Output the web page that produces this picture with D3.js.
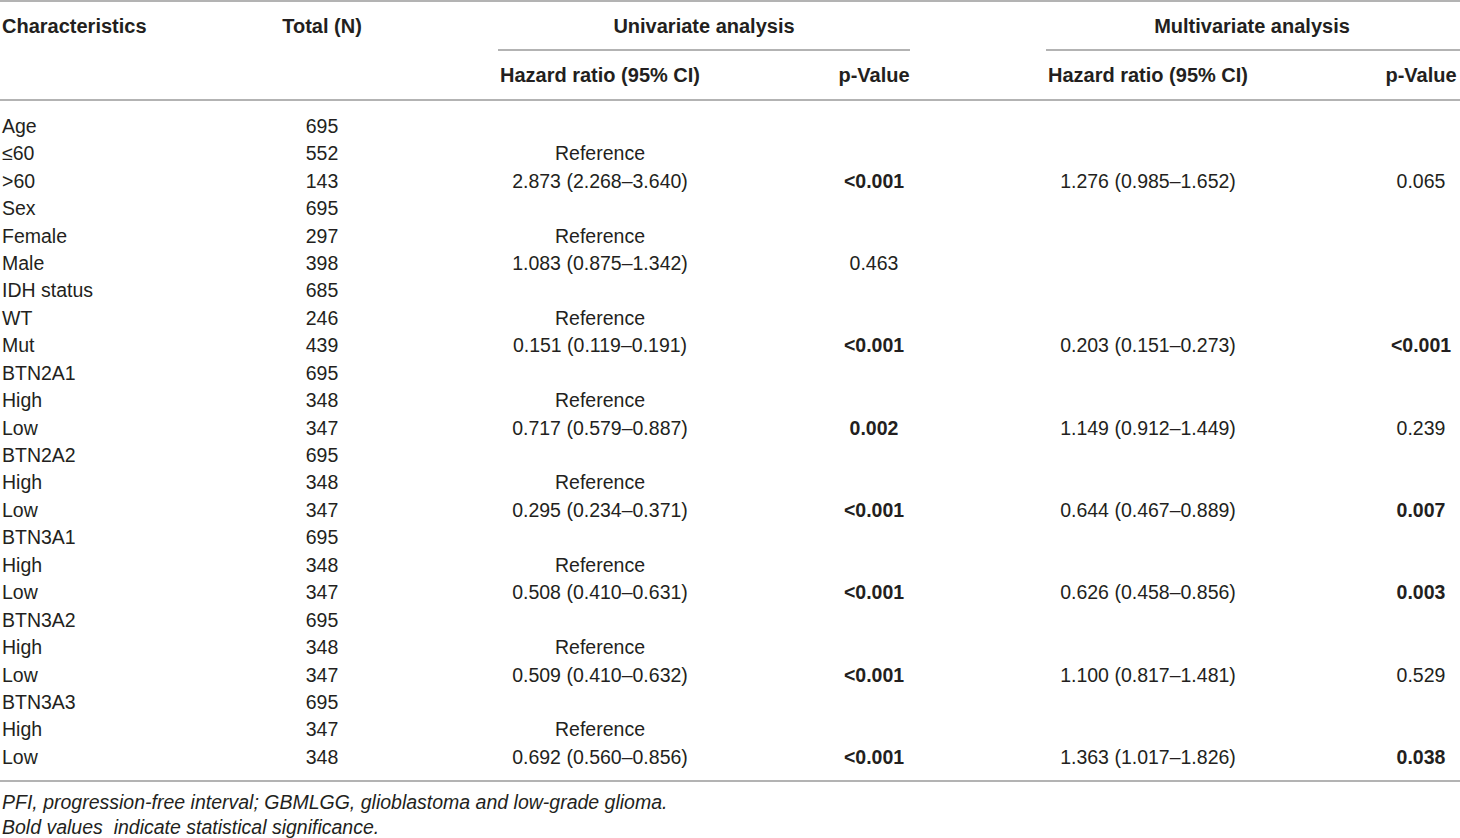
<!DOCTYPE html>
<html lang="en">

<head>
    <meta charset="UTF-8">
    <title>Univariate and multivariate Cox analysis (PFI)</title>
    <style>
        body { margin: 0; background: #fff; }
        text { font-family: "Liberation Sans", Arial, sans-serif; fill: #231f20; white-space: pre; }
    </style>
</head>

<body>
    <script src="https://cdn.jsdelivr.net/npm/d3@7"></script>
    <script>
        const svg_w = 1460;
        const svg_h = 838;

        // table content
        const characteristics = ['Age', '\u226460', '>60', 'Sex', 'Female', 'Male', 'IDH status', 'WT', 'Mut',
            'BTN2A1', 'High', 'Low', 'BTN2A2', 'High', 'Low', 'BTN3A1', 'High', 'Low',
            'BTN3A2', 'High', 'Low', 'BTN3A3', 'High', 'Low'];
        const totals = ['695', '552', '143', '695', '297', '398', '685', '246', '439',
            '695', '348', '347', '695', '348', '347', '695', '348', '347',
            '695', '348', '347', '695', '347', '348'];
        const uni_hr = ['', 'Reference', '2.873 (2.268\u20133.640)', '', 'Reference', '1.083 (0.875\u20131.342)', '', 'Reference', '0.151 (0.119\u20130.191)',
            '', 'Reference', '0.717 (0.579\u20130.887)', '', 'Reference', '0.295 (0.234\u20130.371)', '', 'Reference', '0.508 (0.410\u20130.631)',
            '', 'Reference', '0.509 (0.410\u20130.632)', '', 'Reference', '0.692 (0.560\u20130.856)'];
        const uni_p = ['', '', '<0.001', '', '', '0.463', '', '', '<0.001',
            '', '', '0.002', '', '', '<0.001', '', '', '<0.001',
            '', '', '<0.001', '', '', '<0.001'];
        const multi_hr = ['', '', '1.276 (0.985\u20131.652)', '', '', '', '', '', '0.203 (0.151\u20130.273)',
            '', '', '1.149 (0.912\u20131.449)', '', '', '0.644 (0.467\u20130.889)', '', '', '0.626 (0.458\u20130.856)',
            '', '', '1.100 (0.817\u20131.481)', '', '', '1.363 (1.017\u20131.826)'];
        const multi_p = ['', '', '0.065', '', '', '', '', '', '<0.001',
            '', '', '0.239', '', '', '0.007', '', '', '0.003',
            '', '', '0.529', '', '', '0.038'];
        const footnotes = ['PFI, progression-free interval; GBMLGG, glioblastoma and low-grade glioma.',
            'Bold values  indicate statistical significance.'];

        // significant when p < 0.05
        const isBold = p => p !== '' && (p.startsWith('<') || Number(p) < 0.05);

        const svg = d3.select('body')
            .append('svg')
            .attr('width', svg_w)
            .attr('height', svg_h);

        const fontSize = 19.5;
        const lineColor = '#9a9a9a';

        // column centres
        const col = { total: 322, uniHr: 600, uniP: 874, multiHr: 1148, multiP: 1421 };

        const y = d3.scaleLinear()
            .domain([0, characteristics.length - 1])
            .range([126, 757]);

        function hline(x1, x2, yy) {
            svg.append('line')
                .attr('x1', x1).attr('x2', x2)
                .attr('y1', yy).attr('y2', yy)
                .attr('stroke', lineColor)
                .attr('stroke-width', 1.6);
        }

        function txt(x, yy, s, anchor, weight, style, size) {
            svg.append('text')
                .attr('x', x)
                .attr('y', yy)
                .attr('dy', '0.35em')
                .attr('text-anchor', anchor || 'start')
                .attr('font-size', size || fontSize)
                .attr('font-weight', weight || 'normal')
                .attr('font-style', style || 'normal')
                .text(s);
        }

        // rules
        hline(0, svg_w, 1);
        hline(498, 910, 50);
        hline(1046, svg_w, 50);
        hline(0, svg_w, 100);
        hline(0, svg_w, 781);

        // header
        const hs = 20;
        txt(2, 26, 'Characteristics', 'start', 'bold', null, hs);
        txt(col.total, 26, 'Total (N)', 'middle', 'bold', null, hs);
        txt(704, 26, 'Univariate analysis', 'middle', 'bold', null, hs);
        txt(1252, 26, 'Multivariate analysis', 'middle', 'bold', null, hs);
        txt(col.uniHr, 75, 'Hazard ratio (95% CI)', 'middle', 'bold', null, hs);
        txt(col.uniP, 75, 'p-Value', 'middle', 'bold', null, hs);
        txt(col.multiHr, 75, 'Hazard ratio (95% CI)', 'middle', 'bold', null, hs);
        txt(col.multiP, 75, 'p-Value', 'middle', 'bold', null, hs);

        // body rows
        const rows = svg.selectAll('g.row')
            .data(characteristics.map((c, i) => ({
                c: c, n: totals[i], uh: uni_hr[i], up: uni_p[i], mh: multi_hr[i], mp: multi_p[i]
            })))
            .enter()
            .append('g')
            .attr('class', 'row')
            .attr('transform', (d, i) => `translate(0,${y(i)})`);

        const cells = [
            { key: 'c', x: 2, anchor: 'start' },
            { key: 'n', x: col.total, anchor: 'middle' },
            { key: 'uh', x: col.uniHr, anchor: 'middle' },
            { key: 'up', x: col.uniP, anchor: 'middle', bold: true },
            { key: 'mh', x: col.multiHr, anchor: 'middle' },
            { key: 'mp', x: col.multiP, anchor: 'middle', bold: true }
        ];

        cells.forEach(cell => {
            rows.append('text')
                .attr('x', cell.x)
                .attr('dy', '0.35em')
                .attr('text-anchor', cell.anchor)
                .attr('font-size', fontSize)
                .attr('font-weight', d => cell.bold && isBold(d[cell.key]) ? 'bold' : 'normal')
                .text(d => d[cell.key]);
        });

        // footnotes
        footnotes.forEach((f, i) => {
            txt(2, 802 + i * 25, f, 'start', 'normal', 'italic');
        });
    </script>
</body>

</html>
